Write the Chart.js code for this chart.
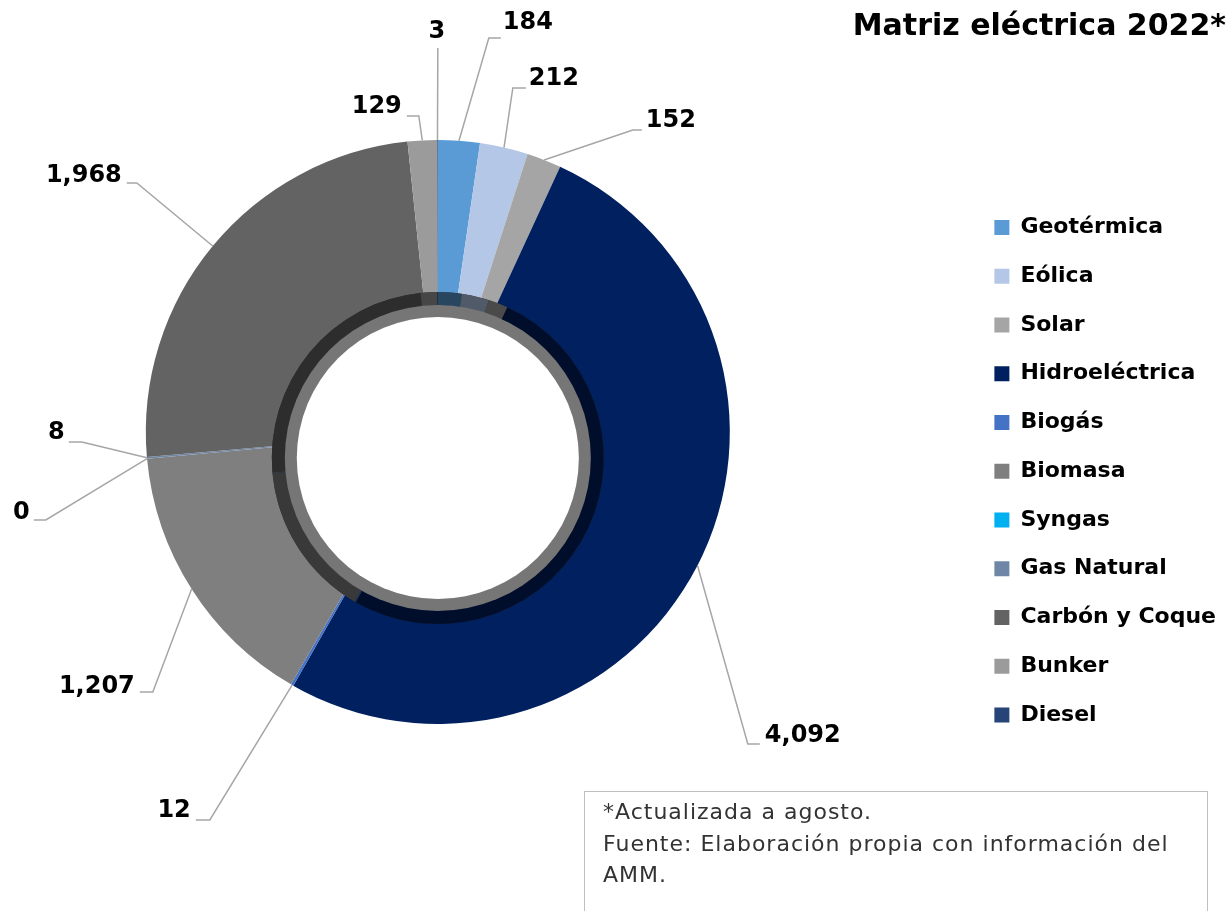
<!DOCTYPE html>
<html>
<head>
<meta charset="utf-8">
<script src="https://cdn.jsdelivr.net/npm/chart.js@4.4.1/dist/chart.umd.min.js"></script>
<style>
  html, body { margin: 0; padding: 0; background: #ffffff; overflow: hidden; }
  #wrap { position: relative; width: 1226px; height: 911px; overflow: hidden; }
  #chart { position: absolute; left: 0; top: 0; }
  #note {
    position: absolute; left: 584px; top: 791px; width: 624px; height: 150px;
    box-sizing: border-box; border: 1.5px solid #bfbfbf; background: transparent;
    padding: 4px 0 0 18px;
    font-family: 'DejaVu Sans', sans-serif; font-weight: 400; font-size: 22px;
    letter-spacing: 1px;
    line-height: 31.5px; color: #333333; white-space: nowrap;
  }
</style>
</head>
<body>
<div id="wrap">
  <canvas id="chart" width="1226" height="911"></canvas>
  <div id="note">*Actualizada a agosto.<br>Fuente: Elaboración propia con información del<br>AMM.</div>
</div>
<script>
// ---- data ----
const categories = ['Geotérmica', 'Eólica', 'Solar', 'Hidroeléctrica', 'Biogás', 'Biomasa',
                    'Syngas', 'Gas Natural', 'Carbón y Coque', 'Bunker', 'Diesel'];
const generation = [184, 212, 152, 4092, 12, 1207, 0, 8, 1968, 129, 3];
const sliceColors = ['#5b9bd5', '#b4c7e7', '#a5a5a5', '#002060', '#4472c4', '#7f7f7f',
                     '#00b0f0', '#6f87a6', '#636363', '#9b9b9b', '#264478'];
const chartTitle = 'Matriz eléctrica 2022*';

// ---- label placement (offsets from the doughnut centre, px) ----
const labelElbowX   = [51, 75, 195, 310, -228, -285, -392, -356, -301, -19, 0];
const labelElbowY   = [-394, -344, -302, 312, 388, 260, 88, 10, -249, -316, -384];
const labelLineEndX = [63, 88, 204, 322, -242, -298, -404, -369, -311, -31, 0];
const labelTextX    = [65, 91, 208, 327, -247, -303, -408, -373, -316, -36, -1];
const labelTextY    = [-409, -353, -311, 304, 379, 255, 81, 1, -256, -325, -400];
const labelAlign    = ['left', 'left', 'left', 'left', 'right', 'right', 'right', 'right', 'right', 'right', 'center'];

// ---- style / layout ----
const FONT_FAMILY = "'DejaVu Sans'";
const PAGE_W = 1226;
const CENTER_X = 438;
const OUTER_R = 292;
const LEGEND_FONT = 22, LEGEND_PAD = 26.75, LEGEND_BOX = 15;
const LABEL_FONT = 24;
const BEVEL = { shift: 0.089, dark: 0.5685, gray: 0.524, hole: 0.483, shade: 0.45 };

function shade(hex, f) {
  const n = parseInt(hex.slice(1), 16);
  const r = Math.round(((n >> 16) & 255) * f), g = Math.round(((n >> 8) & 255) * f), b = Math.round((n & 255) * f);
  return `rgb(${r},${g},${b})`;
}

// widen the canvas to the left so the doughnut centre lands at CENTER_X on the page
const mctx = document.createElement('canvas').getContext('2d');
mctx.font = `normal bold ${LEGEND_FONT}px ${FONT_FAMILY}`;
const maxLabelW = Math.max(...categories.map(c => mctx.measureText(c).width));
const legendWidth = LEGEND_PAD + LEGEND_BOX + LEGEND_FONT / 2 + maxLabelW + 10;
const legendLeftPage = PAGE_W - legendWidth;
const shiftLeft = Math.max(0, Math.round(legendLeftPage - 2 * CENTER_X));
const canvasEl = document.getElementById('chart');
canvasEl.width = PAGE_W + shiftLeft;
canvasEl.style.left = (-shiftLeft) + 'px';

const bevelPlugin = {
  id: 'bevel',
  afterDatasetsDraw(chart) {
    const meta = chart.getDatasetMeta(0);
    if (!meta.data.length) return;
    const ctx = chart.ctx;
    const p0 = meta.data[0].getProps(['x', 'y', 'outerRadius'], true);
    const R = p0.outerRadius;
    const cx = p0.x, cy = p0.y + R * BEVEL.shift;
    const rDark = R * BEVEL.dark, rGray = R * BEVEL.gray, rHole = R * BEVEL.hole;
    ctx.save();
    ctx.beginPath(); ctx.arc(cx, cy, rDark, 0, Math.PI * 2);
    ctx.fillStyle = '#2e2e2e'; ctx.fill();
    meta.data.forEach((el, i) => {
      const { startAngle, endAngle } = el.getProps(['startAngle', 'endAngle'], true);
      if (endAngle - startAngle <= 0) return;
      ctx.beginPath();
      ctx.arc(cx, cy, rDark, startAngle, endAngle);
      ctx.arc(cx, cy, rGray - 1, endAngle, startAngle, true);
      ctx.closePath();
      ctx.fillStyle = shade(sliceColors[i], BEVEL.shade);
      ctx.fill();
    });
    ctx.beginPath(); ctx.arc(cx, cy, rGray, 0, Math.PI * 2);
    ctx.fillStyle = '#767676'; ctx.fill();
    ctx.beginPath(); ctx.arc(cx, cy, rHole, 0, Math.PI * 2);
    ctx.fillStyle = '#ffffff'; ctx.fill();
    ctx.restore();
  }
};

const leaderLabelPlugin = {
  id: 'leaderLabels',
  afterDraw(chart) {
    const meta = chart.getDatasetMeta(0);
    const ctx = chart.ctx;
    ctx.save();
    ctx.lineWidth = 1.5;
    ctx.strokeStyle = '#a6a6a6';
    ctx.font = `bold ${LABEL_FONT}px ${FONT_FAMILY}`;
    ctx.fillStyle = '#000000';
    ctx.textBaseline = 'middle';
    meta.data.forEach((el, i) => {
      const { x, y, startAngle, endAngle, outerRadius } =
        el.getProps(['x', 'y', 'startAngle', 'endAngle', 'outerRadius'], true);
      const mid = (startAngle + endAngle) / 2;
      const ax = x + Math.cos(mid) * outerRadius;
      const ay = y + Math.sin(mid) * outerRadius;
      ctx.beginPath();
      ctx.moveTo(ax, ay);
      ctx.lineTo(x + labelElbowX[i], y + labelElbowY[i]);
      ctx.lineTo(x + labelLineEndX[i], y + labelElbowY[i]);
      ctx.stroke();
      ctx.textAlign = labelAlign[i];
      ctx.fillText(generation[i].toLocaleString('en-US'), x + labelTextX[i], y + labelTextY[i]);
    });
    ctx.restore();
  }
};

new Chart(canvasEl, {
  type: 'doughnut',
  data: {
    labels: categories,
    datasets: [{
      data: generation,
      backgroundColor: sliceColors,
      borderWidth: 0,
      hoverOffset: 0,
      offset: 0
    }]
  },
  options: {
    responsive: false,
    animation: false,
    events: [],
    radius: OUTER_R,
    cutout: '41%',
    layout: { padding: { top: 0, right: 0, bottom: 158.25, left: 0 } },
    plugins: {
      title: {
        display: true,
        text: chartTitle,
        align: 'end',
        color: '#000000',
        font: { family: FONT_FAMILY, weight: 'bold', size: 30 },
        padding: { top: 9, bottom: 66.25 }
      },
      legend: {
        display: true,
        position: 'right',
        align: 'end',
        labels: {
          boxWidth: LEGEND_BOX,
          boxHeight: LEGEND_BOX,
          padding: LEGEND_PAD,
          color: '#000000',
          font: { family: FONT_FAMILY, weight: 'bold', size: LEGEND_FONT }
        }
      },
      tooltip: { enabled: false }
    }
  },
  plugins: [bevelPlugin, leaderLabelPlugin]
});
</script>
</body>
</html>
